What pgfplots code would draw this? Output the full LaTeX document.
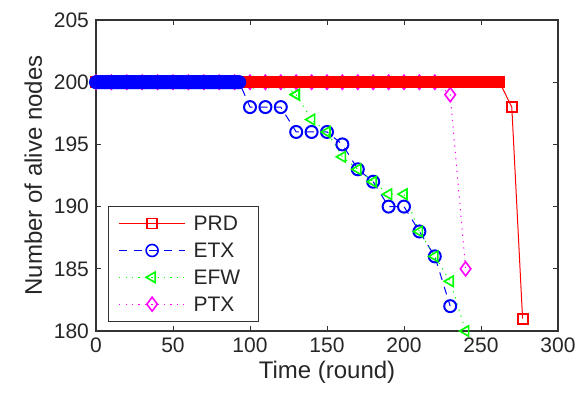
\documentclass[border=0pt]{standalone}
\usepackage{fontspec}
\setmainfont{Liberation Sans}
\usepackage{pgfplots}
\pgfplotsset{compat=1.18}

\definecolor{mred}{RGB}{255,0,0}
\definecolor{mblue}{RGB}{0,0,255}
\definecolor{mgreen}{RGB}{0,255,0}
\definecolor{mmag}{RGB}{255,0,255}
\definecolor{txt}{RGB}{38,38,38}

\begin{document}
\begin{tikzpicture}
\path[use as bounding box] (-48pt,-36pt) rectangle (245.5pt,165.5pt);
\begin{axis}[
  scale only axis,
  width=231pt, height=155.5pt,
  xmin=0, xmax=300, ymin=180, ymax=205,
  xtick={0,50,...,300}, ytick={180,185,...,205},
  tick align=inside,
  major tick length=2.5pt,
  axis line style={line width=0.7pt, black!80},
  tick style={black!80, line width=0.5pt},
  tick label style={text=txt, font=\fontsize{10.5}{12}\selectfont},
  /pgf/number format/assume math mode=true,
  xlabel={Time (round)},
  ylabel={Number of alive nodes},
  label style={text=txt, font=\fontsize{12}{14}\selectfont},
  xlabel style={yshift=3pt},
  ylabel style={yshift=-1pt},
  legend style={at={(0.026,0.029)}, anchor=south west, draw=black!80,
    line width=0.6pt, inner xsep=5pt, inner ysep=3pt, row sep=2.2pt,
    font=\fontsize{10.5}{12}\selectfont, text=txt, fill=white,
    nodes={text depth=0pt, inner xsep=4pt}},
  legend cell align=left,
  legend image code/.code={
    \draw[mark repeat=2,mark phase=2] plot coordinates {(0pt,0pt)(16.5pt,0pt)(33pt,0pt)};
  },
]
\addlegendimage{mred, line width=0.5pt, mark=square, mark size=2.5pt, mark options={solid, line width=0.8pt}}
\addlegendentry{PRD}
\addlegendimage{mblue, line width=0.5pt, dash pattern=on 4pt off 3.5pt, mark=o, mark size=3pt, mark options={solid, line width=0.8pt}}
\addlegendentry{ETX}
\addlegendimage{mgreen, line width=0.5pt, dash pattern=on 0.6pt off 2.6pt, mark=triangle, mark size=3pt, mark options={solid, rotate=90, line width=0.8pt}}
\addlegendentry{EFW}
\addlegendimage{mmag, line width=0.5pt, dash pattern=on 0.6pt off 2.6pt, mark=diamond, mark size=3.5pt, mark options={solid, line width=0.8pt}}
\addlegendentry{PTX}

% PTX
\addplot[forget plot, mmag, line width=0.5pt, dash pattern=on 0.6pt off 2.6pt, mark=diamond, mark size=3.5pt, mark options={solid, line width=0.8pt}] coordinates {
  (0,200)(10,200)(20,200)(30,200)(40,200)(50,200)(60,200)(70,200)(80,200)(90,200)
  (100,200)(110,200)(120,200)(130,200)(140,200)(150,200)(160,200)(170,200)(180,200)
  (190,200)(200,200)(210,200)(220,200)(230,199)(240,185)
};
% EFW, part lying under the band
\addplot[forget plot, mgreen, line width=0.5pt, dash pattern=on 0.6pt off 2.6pt, mark=triangle, mark size=3pt, mark options={solid, rotate=90, line width=0.8pt}] coordinates {
  (0,200)(10,200)(20,200)(30,200)(40,200)(50,200)(60,200)(70,200)(80,200)(90,200)
  (100,200)(110,200)(120,200)(130,199)
};
% PRD
\addplot[forget plot, mred, line width=0.5pt, mark=square, mark size=2.5pt, mark options={solid, line width=1pt}] coordinates {
  (0,200)(1,200)(2,200)(3,200)(4,200)(5,200)(6,200)(7,200)(8,200)(9,200)
  (10,200)(11,200)(12,200)(13,200)(14,200)(15,200)(16,200)(17,200)(18,200)(19,200)
  (20,200)(21,200)(22,200)(23,200)(24,200)(25,200)(26,200)(27,200)(28,200)(29,200)
  (30,200)(31,200)(32,200)(33,200)(34,200)(35,200)(36,200)(37,200)(38,200)(39,200)
  (40,200)(41,200)(42,200)(43,200)(44,200)(45,200)(46,200)(47,200)(48,200)(49,200)
  (50,200)(51,200)(52,200)(53,200)(54,200)(55,200)(56,200)(57,200)(58,200)(59,200)
  (60,200)(61,200)(62,200)(63,200)(64,200)(65,200)(66,200)(67,200)(68,200)(69,200)
  (70,200)(71,200)(72,200)(73,200)(74,200)(75,200)(76,200)(77,200)(78,200)(79,200)
  (80,200)(81,200)(82,200)(83,200)(84,200)(85,200)(86,200)(87,200)(88,200)(89,200)
  (90,200)(91,200)(92,200)(93,200)(94,200)(95,200)(96,200)(97,200)(98,200)(99,200)
  (100,200)(101,200)(102,200)(103,200)(104,200)(105,200)(106,200)(107,200)(108,200)(109,200)
  (110,200)(111,200)(112,200)(113,200)(114,200)(115,200)(116,200)(117,200)(118,200)(119,200)
  (120,200)(121,200)(122,200)(123,200)(124,200)(125,200)(126,200)(127,200)(128,200)(129,200)
  (130,200)(131,200)(132,200)(133,200)(134,200)(135,200)(136,200)(137,200)(138,200)(139,200)
  (140,200)(141,200)(142,200)(143,200)(144,200)(145,200)(146,200)(147,200)(148,200)(149,200)
  (150,200)(151,200)(152,200)(153,200)(154,200)(155,200)(156,200)(157,200)(158,200)(159,200)
  (160,200)(161,200)(162,200)(163,200)(164,200)(165,200)(166,200)(167,200)(168,200)(169,200)
  (170,200)(171,200)(172,200)(173,200)(174,200)(175,200)(176,200)(177,200)(178,200)(179,200)
  (180,200)(181,200)(182,200)(183,200)(184,200)(185,200)(186,200)(187,200)(188,200)(189,200)
  (190,200)(191,200)(192,200)(193,200)(194,200)(195,200)(196,200)(197,200)(198,200)(199,200)
  (200,200)(201,200)(202,200)(203,200)(204,200)(205,200)(206,200)(207,200)(208,200)(209,200)
  (210,200)(211,200)(212,200)(213,200)(214,200)(215,200)(216,200)(217,200)(218,200)(219,200)
  (220,200)(221,200)(222,200)(223,200)(224,200)(225,200)(226,200)(227,200)(228,200)(229,200)
  (230,200)(231,200)(232,200)(233,200)(234,200)(235,200)(236,200)(237,200)(238,200)(239,200)
  (240,200)(241,200)(242,200)(243,200)(244,200)(245,200)(246,200)(247,200)(248,200)(249,200)
  (250,200)(251,200)(252,200)(253,200)(254,200)(255,200)(256,200)(257,200)(258,200)(259,200)
  (260,200)(261,200)(262,200)(270,198)(277,181)
};
% ETX
\addplot[forget plot, mblue, line width=0.5pt, dash pattern=on 4pt off 3.5pt, mark=o, mark size=3pt, mark options={solid, line width=1pt}] coordinates {
  (0,200)(1,200)(2,200)(3,200)(4,200)(5,200)(6,200)(7,200)(8,200)(9,200)
  (10,200)(11,200)(12,200)(13,200)(14,200)(15,200)(16,200)(17,200)(18,200)(19,200)
  (20,200)(21,200)(22,200)(23,200)(24,200)(25,200)(26,200)(27,200)(28,200)(29,200)
  (30,200)(31,200)(32,200)(33,200)(34,200)(35,200)(36,200)(37,200)(38,200)(39,200)
  (40,200)(41,200)(42,200)(43,200)(44,200)(45,200)(46,200)(47,200)(48,200)(49,200)
  (50,200)(51,200)(52,200)(53,200)(54,200)(55,200)(56,200)(57,200)(58,200)(59,200)
  (60,200)(61,200)(62,200)(63,200)(64,200)(65,200)(66,200)(67,200)(68,200)(69,200)
  (70,200)(71,200)(72,200)(73,200)(74,200)(75,200)(76,200)(77,200)(78,200)(79,200)
  (80,200)(81,200)(82,200)(83,200)(84,200)(85,200)(86,200)(87,200)(88,200)(89,200)
  (90,200)(91,200)(92,200)(93,200)
  (100,198)(110,198)(120,198)(130,196)(140,196)(150,196)(160,195)(170,193)(180,192)
  (190,190)(200,190)(210,188)(220,186)(230,182)
};
% EFW, falling part
\addplot[forget plot, mgreen, line width=0.5pt, dash pattern=on 0.6pt off 2.6pt, mark=triangle, mark size=3pt, mark options={solid, rotate=90, line width=0.8pt}] coordinates {
  (130,199)(140,197)(150,196)(160,194)(170,193)(180,192)(190,191)(200,191)
  (210,188)(220,186)(230,184)(240,180)
};
\end{axis}
\end{tikzpicture}
\end{document}
